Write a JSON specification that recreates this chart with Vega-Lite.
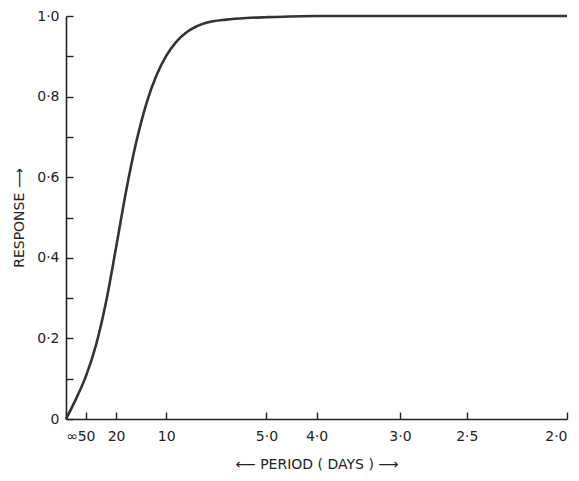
{
  "$schema": "https://vega.github.io/schema/vega-lite/v6.json",
  "autosize": "none",
  "width": 501,
  "height": 403,
  "padding": {"left": 66, "top": 16, "right": 12, "bottom": 62},
  "background": "white",
  "config": {
    "view": {"stroke": null},
    "font": "DejaVu Sans",
    "axis": {"grid": false, "domainColor": "#222", "tickColor": "#222", "labelColor": "#222", "titleColor": "#222", "domainWidth": 1.6, "tickWidth": 1.4, "labelFont": "DejaVu Sans", "titleFont": "DejaVu Sans", "titleFontWeight": "normal"}
  },
  "data": {
    "values": [
      {"freq": 0, "response": 0},
      {"freq": 0.01, "response": 0.05},
      {"freq": 0.02, "response": 0.107},
      {"freq": 0.03, "response": 0.184},
      {"freq": 0.04, "response": 0.291},
      {"freq": 0.05, "response": 0.426},
      {"freq": 0.06, "response": 0.566},
      {"freq": 0.07, "response": 0.686},
      {"freq": 0.08, "response": 0.781},
      {"freq": 0.09, "response": 0.851},
      {"freq": 0.1, "response": 0.901},
      {"freq": 0.11, "response": 0.936},
      {"freq": 0.12, "response": 0.959},
      {"freq": 0.13, "response": 0.974},
      {"freq": 0.14, "response": 0.983},
      {"freq": 0.16, "response": 0.991},
      {"freq": 0.18, "response": 0.995},
      {"freq": 0.2, "response": 0.997},
      {"freq": 0.25, "response": 1.0},
      {"freq": 0.3, "response": 1.0},
      {"freq": 0.4, "response": 1.0},
      {"freq": 0.5, "response": 1.0}
    ]
  },
  "mark": {"type": "line", "interpolate": "monotone", "stroke": "#333", "strokeWidth": 2.6},
  "encoding": {
    "x": {
      "field": "freq",
      "type": "quantitative",
      "scale": {"domain": [0, 0.5], "nice": false, "zero": true},
      "axis": {
        "values": [0, 0.02, 0.05, 0.1, 0.2, 0.25, 0.3333333, 0.4, 0.5],
        "labelExpr": "datum.value == 0 ? '∞' : datum.value < 0.03 ? '50' : datum.value < 0.06 ? '20' : datum.value < 0.15 ? '10' : datum.value < 0.22 ? '5·0' : datum.value < 0.3 ? '4·0' : datum.value < 0.36 ? '3·0' : datum.value < 0.45 ? '2·5' : '2·0'",
        "labelOverlap": false,
        "labelFontSize": 14,
        "labelPadding": 17,
        "tickSize": -7,
        "title": "⟵   PERIOD  ( DAYS )   ⟶",
        "titleFontSize": 14,
        "titlePadding": 14
      }
    },
    "y": {
      "field": "response",
      "type": "quantitative",
      "scale": {"domain": [0, 1], "nice": false},
      "axis": {
        "values": [0, 0.1, 0.2, 0.3, 0.4, 0.5, 0.6, 0.7, 0.8, 0.9, 1.0],
        "labelExpr": "datum.value == 0 ? '0' : (round(datum.value * 10) % 2 == 0 ? replace(format(datum.value, '.1f'), '.', '·') : '')",
        "labelOverlap": false,
        "labelFontSize": 14,
        "labelPadding": 14,
        "tickSize": -7,
        "title": "RESPONSE ⟶",
        "titleFontSize": 14,
        "titlePadding": 10
      }
    }
  }
}
